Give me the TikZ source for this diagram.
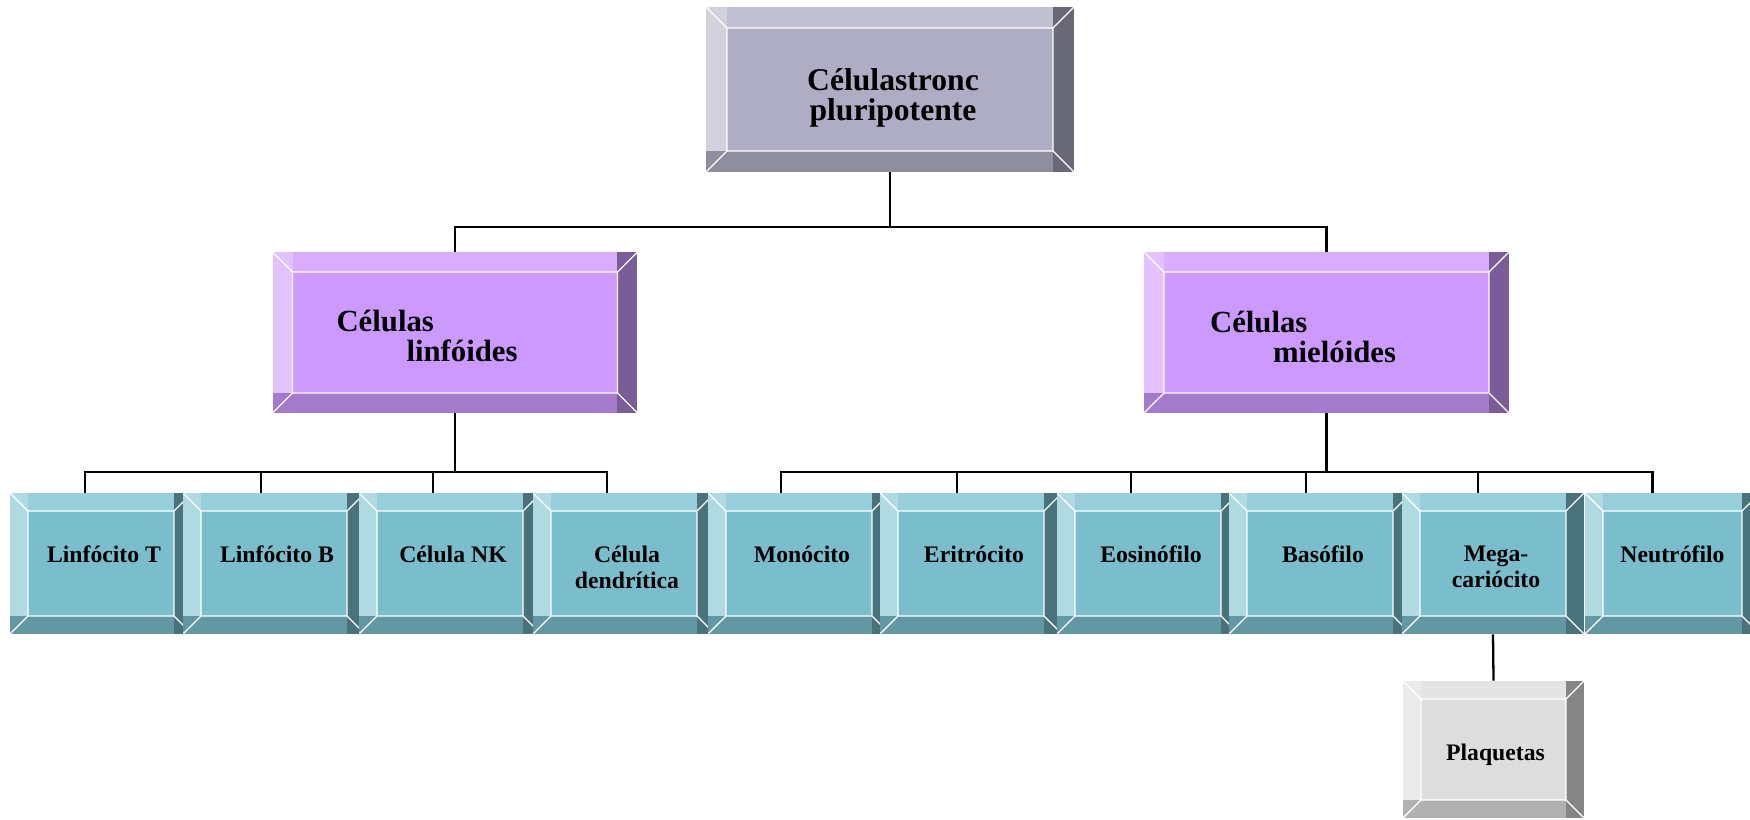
\documentclass[tikz,border=0pt]{standalone}
\usepackage{fontspec}
\setmainfont{Liberation Serif}
\usetikzlibrary{calc,positioning}

\definecolor{topin}{RGB}{174,173,195}
\definecolor{toptop}{RGB}{193,192,210}
\definecolor{topleft}{RGB}{210,209,222}
\definecolor{topright}{RGB}{105,104,118}
\definecolor{topbot}{RGB}{143,142,158}

\definecolor{lilin}{RGB}{204,153,255}
\definecolor{litop}{RGB}{216,173,255}
\definecolor{lileft}{RGB}{225,193,255}
\definecolor{liright}{RGB}{122,92,153}
\definecolor{libot}{RGB}{163,122,204}

\definecolor{tein}{RGB}{122,190,204}
\definecolor{tetop}{RGB}{150,206,217}
\definecolor{teleft}{RGB}{175,218,226}
\definecolor{teright}{RGB}{73,114,122}
\definecolor{tebot}{RGB}{97,152,163}

\definecolor{grin}{RGB}{221,221,221}
\definecolor{grtop}{RGB}{228,228,228}
\definecolor{grleft}{RGB}{234,234,234}
\definecolor{grright}{RGB}{133,133,133}
\definecolor{grbot}{RGB}{177,177,177}

\tikzset{
  bevel width/.store in=\bevw, bevel width=0.36cm,
  bevel/.style n args={5}{
    rectangle, fill=#1, inner sep=0pt,
    path picture={
      \coordinate (bv-nw) at (path picture bounding box.north west);
      \coordinate (bv-ne) at (path picture bounding box.north east);
      \coordinate (bv-sw) at (path picture bounding box.south west);
      \coordinate (bv-se) at (path picture bounding box.south east);
      \coordinate (bv-inw) at ([shift={(\bevw,-\bevw)}]bv-nw);
      \coordinate (bv-ine) at ([shift={(-\bevw,-\bevw)}]bv-ne);
      \coordinate (bv-isw) at ([shift={(\bevw,\bevw)}]bv-sw);
      \coordinate (bv-ise) at ([shift={(-\bevw,\bevw)}]bv-se);
      \fill[#2] (bv-nw) rectangle (bv-ine);
      \fill[#5] (bv-sw) rectangle (bv-ise);
      \fill[#3] (bv-nw) rectangle (bv-isw);
      \fill[#4] (bv-ne) rectangle (bv-ise |- bv-se);
      \draw[white, line width=0.7pt] (bv-inw) rectangle (bv-ise)
        (bv-nw) -- (bv-inw) (bv-ne) -- (bv-ine) (bv-sw) -- (bv-isw) (bv-se) -- (bv-ise);
    }},
  topbox/.style={bevel={topin}{toptop}{topleft}{topright}{topbot}, bevel width=0.42cm,
    minimum width=7.36cm, minimum height=3.3cm},
  groupbox/.style={bevel={lilin}{litop}{lileft}{liright}{libot}, bevel width=0.4cm,
    minimum width=7.3cm, minimum height=3.22cm},
  cellbox/.style={bevel={tein}{tetop}{teleft}{teright}{tebot},
    minimum width=3.64cm, minimum height=2.82cm},
  platebox/.style={bevel={grin}{grtop}{grleft}{grright}{grbot},
    minimum width=3.62cm, minimum height=2.74cm},
  titletext/.style={font=\bfseries\fontsize{18}{16.8}\selectfont, align=center, anchor=north, inner sep=0pt},
  grouptext/.style={font=\bfseries\fontsize{17.5}{17}\selectfont, align=left, anchor=north west, inner sep=0pt},
  celltext/.style={font=\bfseries\fontsize{13.5}{14.7}\selectfont, align=center, anchor=north, inner sep=0pt},
  link/.style={line width=1.3pt}
}

\begin{document}
\begin{tikzpicture}[x=0.02cm, y=-0.02cm]
    \useasboundingbox (0,0) rectangle (1750,819);
    \clip (0,0) rectangle (1750,819);

    \node[topbox] (stem) at (890,89.5) {};
    \node[titletext] (stem-txt) at ($(stem.north)+(3,62)$) {Célulastronc\\pluripotente};

    \node[groupbox] (lymph) at (455,332.5) {};
    \node[grouptext] (lymph-txt) at ($(lymph.north west)+(64,58)$) {Células\\\hspace*{1.4cm}linfóides};

    \node[groupbox] (myelo) at (1326.5,332.5) {};
    \node[grouptext] (myelo-txt) at ($(myelo.north west)+(66,59)$) {Células\\\hspace*{1.26cm}mielóides};

    \foreach \n/\x/\lbl in {lt/101/{Linfócito T}, lb/274/{Linfócito B}, nk/450/{Célula NK},
        dc/624/{Célula\\dendrítica}, mo/799/Monócito, er/971/Eritrócito,
        eo/1148/Eosinófilo, ba/1320/Basófilo, mk/1493/{Mega-\\cariócito}} {
      \node[cellbox] (\n) at (\x,563.5) {};
      \node[celltext] (\n-txt) at ($(\n.north)+(3,53)$) {\lbl};
    }
    \node[cellbox, minimum width=3.5cm] (neu) at (1672.5,563.5) {};
    \node[celltext] (neu-txt) at ($(neu.north)+(0,53)$) {Neutrófilo};

    \node[platebox] (pl) at (1493.5,749.5) {};
    \node[celltext] (pl-txt) at ($(pl.north)+(2,63)$) {Plaquetas};

    \draw[link] (stem.south) -- ++(0,55) -| (lymph.north);
    \draw[link] (stem.south) -- ++(0,55) -| (myelo.north);

    \foreach \n/\d in {lt/-16, lb/-13, nk/-17, dc/-17}
      \draw[link] (lymph.south) -- ++(0,59) -| ([shift={(\d,0)}]\n.north);
    \foreach \n/\d in {mo/-18, er/-14, eo/-17, ba/-14, mk/-15, neu/-20}
      \draw[link] (myelo.south) -- ++(0,59) -| ([shift={(\d,0)}]\n.north);

    \draw[link] (mk.south) -- (pl.north);
\end{tikzpicture}
\end{document}
